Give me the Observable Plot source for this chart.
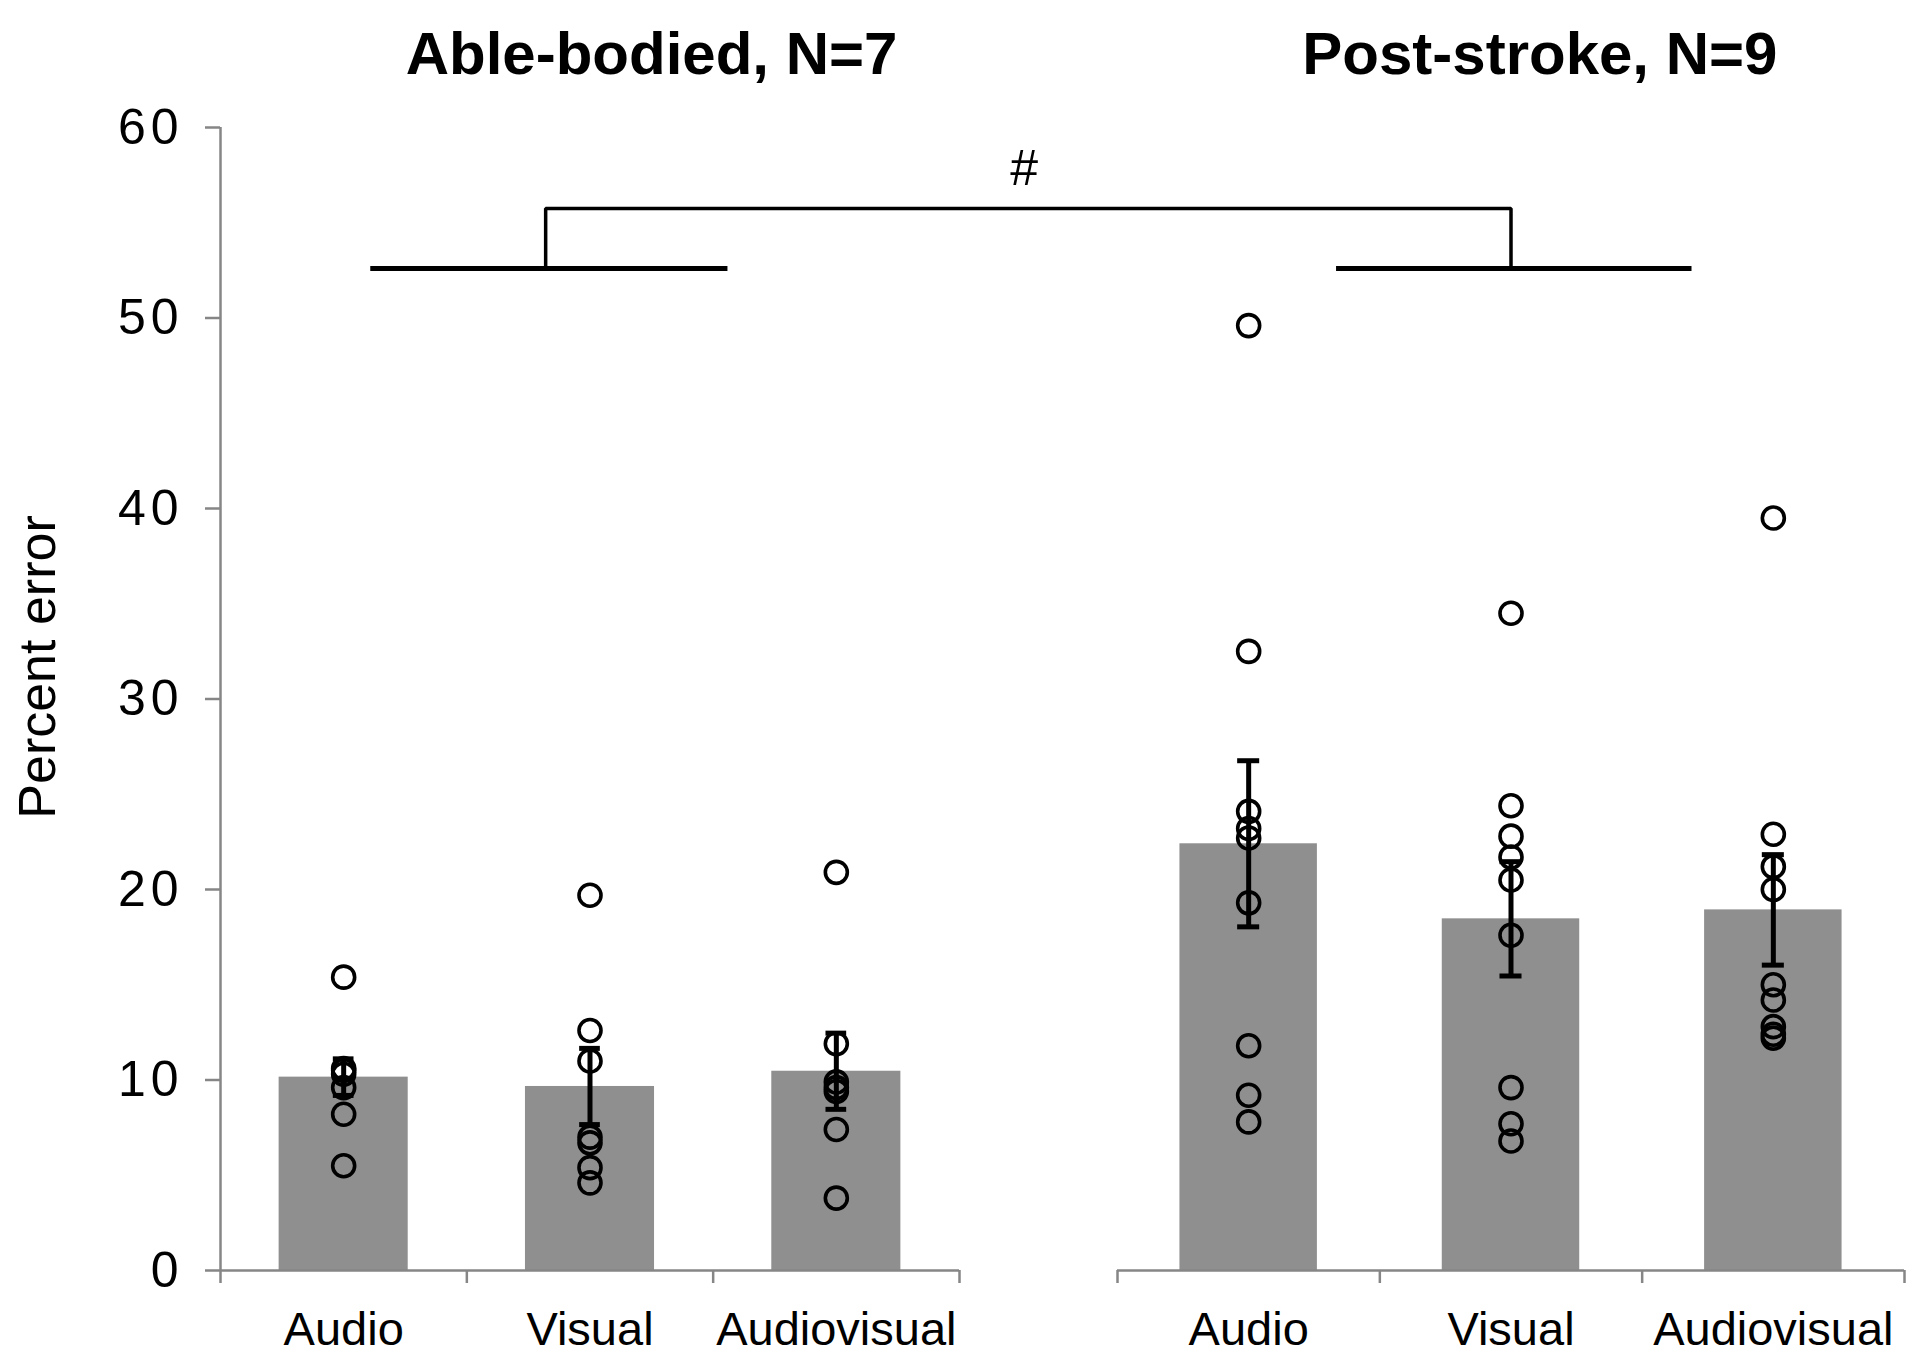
<!DOCTYPE html>
<html><head><meta charset="utf-8">
<script src="https://cdn.jsdelivr.net/npm/d3@7"></script>
<script src="https://cdn.jsdelivr.net/npm/@observablehq/plot@0.6"></script>
<style>html,body{margin:0;padding:0;background:#fff;} svg{display:block}</style>
</head><body><div id="chart"></div>
<script>
// ---- data ----
const groups = ["Able-bodied", "Post-stroke"];
const groupTitles = ["Able-bodied, N=7", "Post-stroke, N=9"];
const conditions = ["Audio", "Visual", "Audiovisual"];
const meanAble = [10.15, 9.66, 10.46];
const errAble = [0.96, 2.0, 2.0];
const meanStroke = [22.4, 18.46, 18.93];
const errStroke = [4.36, 3.0, 2.9];
const ableAudio = [15.4, 10.6, 10.5, 10.3, 9.6, 8.2, 5.5];
const ableVisual = [19.7, 12.6, 11.0, 7.0, 6.7, 5.4, 4.6];
const ableAudiovisual = [20.9, 11.9, 9.9, 9.6, 9.4, 7.4, 3.8];
const strokeAudio = [49.6, 32.5, 24.1, 23.2, 22.7, 19.3, 11.8, 9.2, 7.8];
const strokeVisual = [34.5, 24.4, 22.8, 21.7, 20.5, 17.6, 9.6, 7.7, 6.8];
const strokeAudiovisual = [39.5, 22.9, 21.2, 20.0, 15.0, 14.2, 12.8, 12.4, 12.2];
const yTicks = [0, 10, 20, 30, 40, 50, 60];
const yLabel = "Percent error";
const significanceMark = "#";
const bracketLevels = [52.6, 55.75];
const significanceLevel = 57.0;

// ---- layout (category units: able-bodied 0..3, post-stroke 4..7) ----
const groupOffset = [0, 4];
const bracketSpans = [[0.61, 2.06], [4.835, 6.19]];
const bracketStems = [1.32, 5.50];
const titleX = [1.75, 5.61];
const barHalf = 0.262, capHalf = 0.042;
const gray = "#868686", barFill = "#8f8f8f";

const means = [meanAble, meanStroke];
const errs = [errAble, errStroke];
const pts = [[ableAudio, ableVisual, ableAudiovisual], [strokeAudio, strokeVisual, strokeAudiovisual]];

const bars = [], points = [];
groups.forEach((g, gi) => conditions.forEach((c, ci) => {
  const pos = groupOffset[gi] + ci + 0.5;
  bars.push({group: g, cond: c, pos, mean: means[gi][ci], err: errs[gi][ci]});
  pts[gi][ci].forEach(v => points.push({group: g, cond: c, pos, value: v}));
}));
const caps = bars.flatMap(d => [{pos: d.pos, v: d.mean - d.err}, {pos: d.pos, v: d.mean + d.err}]);
const edges = groupOffset.flatMap(o => [o, o + 1, o + 2, o + 3]);
const panels = groupOffset.map(o => ({x1: o, x2: o + 3}));
const titles = groupTitles.map((t, i) => ({label: t, x: titleX[i]}));
const bracketLow = bracketSpans.map(([a, b]) => ({x1: a, x2: b}));
const bracketPath = [
  {x: bracketStems[0], y: bracketLevels[0]}, {x: bracketStems[0], y: bracketLevels[1]},
  {x: bracketStems[1], y: bracketLevels[1]}, {x: bracketStems[1], y: bracketLevels[0]}
];

const chart = Plot.plot({
  width: 1920, height: 1356,
  marginTop: 127, marginBottom: 86, marginLeft: 220, marginRight: 16,
  style: {background: "white", fontFamily: "'Liberation Sans', Arial, sans-serif", color: "black"},
  x: {type: "linear", domain: [0, 3, 4, 7], range: [220, 959, 1117, 1904], axis: null},
  y: {domain: [0, 60], axis: null},
  marks: [
    Plot.rect(bars, {x1: d => d.pos - barHalf, x2: d => d.pos + barHalf, y1: 0, y2: "mean", fill: barFill}),
    Plot.ruleY(panels, {y: 0, x1: "x1", x2: "x2", stroke: gray, strokeWidth: 2.5}),
    Plot.ruleX([0], {y1: 0, y2: 60, stroke: gray, strokeWidth: 2.5}),
    Plot.axisY(yTicks, {anchor: "left", tickSize: 15, tickPadding: 22, fontSize: 50, stroke: gray, fill: "black", strokeWidth: 2.5, label: null, ariaLabel: "y-axis"}),
    Plot.axisX(edges, {anchor: "bottom", tickSize: 13, tickFormat: () => "", stroke: gray, strokeWidth: 2.5, label: null}),
    Plot.ruleX(bars, {x: "pos", y1: d => d.mean - d.err, y2: d => d.mean + d.err, stroke: "black", strokeWidth: 5}),
    Plot.ruleY(caps, {y: "v", x1: d => d.pos - capHalf, x2: d => d.pos + capHalf, stroke: "black", strokeWidth: 5}),
    Plot.dot(points, {x: "pos", y: "value", r: 11, stroke: "black", strokeWidth: 3.6, fill: "none"}),
    Plot.text(bars, {x: "pos", text: "cond", frameAnchor: "bottom", lineAnchor: "bottom", dy: 74, fontSize: 47, fill: "black"}),
    Plot.text(titles, {x: "x", text: "label", frameAnchor: "top", lineAnchor: "bottom", dy: -54, fontSize: 60, fontWeight: "bold", fill: "black"}),
    Plot.text([yLabel], {text: d => d, frameAnchor: "left", textAnchor: "middle", rotate: -90, dx: -182, dy: -32, fontSize: 52, fill: "black"}),
    Plot.ruleY(bracketLow, {y: bracketLevels[0], x1: "x1", x2: "x2", stroke: "black", strokeWidth: 5}),
    Plot.line(bracketPath, {x: "x", y: "y", stroke: "black", strokeWidth: 3.5, strokeLinejoin: "miter", strokeLinecap: "butt"}),
    Plot.text([significanceMark], {x: (bracketStems[0] + bracketStems[1]) / 2, y: significanceLevel, text: d => d, lineAnchor: "bottom", fontSize: 50, fill: "black"})
  ]
});
// slightly wider y tick labels, as in the reference
d3.select(chart).selectAll("g[aria-label='y-axis tick label'] text").style("letter-spacing", "5px");
document.getElementById("chart").append(chart);
</script>
</body></html>
